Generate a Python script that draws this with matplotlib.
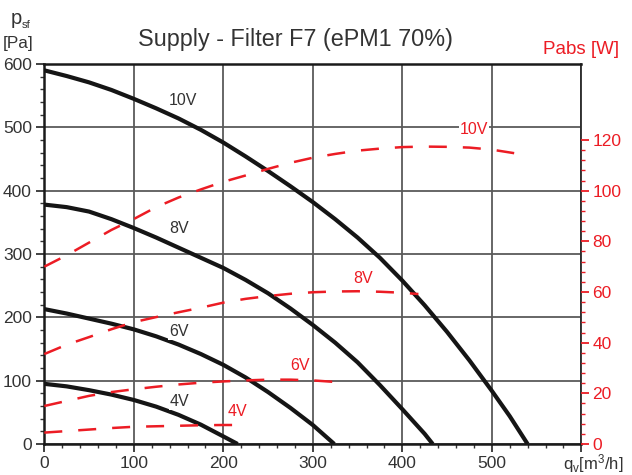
import matplotlib
matplotlib.use('Agg')
import matplotlib.pyplot as plt
from matplotlib.ticker import FixedLocator

plt.rcParams['font.family'] = ['Liberation Sans', 'DejaVu Sans']
plt.rcParams['mathtext.fontset'] = 'custom'
plt.rcParams['mathtext.rm'] = 'Liberation Sans'
plt.rcParams['mathtext.it'] = 'Liberation Sans'

# ---------------- data ----------------
# static pressure curves  (q [m3/h], p [Pa])
q_p10 = [0, 25, 50, 75, 100, 125, 150, 175, 200, 225, 250, 275, 300, 325, 350, 375, 400, 425, 450, 475, 500, 520, 540]
p_p10 = [590, 581, 571, 559, 545, 530, 514, 496, 476, 454, 431, 407, 382, 355, 326, 294, 258, 219, 177, 132, 84, 44, 0]

q_p8 = [0, 25, 50, 75, 100, 125, 150, 175, 200, 225, 250, 275, 300, 325, 350, 375, 400, 425, 434]
p_p8 = [378, 374, 367, 355, 341, 326, 310, 294, 278, 259, 238, 214, 188, 160, 129, 93, 55, 16, 0]

q_p6 = [0, 25, 50, 75, 100, 125, 150, 175, 200, 225, 250, 275, 300, 324]
p_p6 = [213, 206, 198, 190, 181, 170, 157, 142, 125, 105, 82, 57, 30, 0]

q_p4 = [0, 25, 50, 75, 100, 125, 150, 175, 200, 216]
p_p4 = [95, 91, 85, 78, 69.5, 59, 46, 30.5, 12, 0]

# absorbed power curves (q [m3/h], P [W])
q_w10 = [0, 25, 50, 75, 100, 125, 150, 175, 200, 225, 250, 275, 300, 325, 350, 375, 400, 425, 450, 475, 500, 525]
w_w10 = [70, 74.5, 79.5, 84.5, 88.8, 93.5, 97.3, 100.5, 103.5, 106, 108.6, 111, 113, 114.5, 115.8, 116.6, 117.2, 117.4, 117.3, 117, 116.2, 114.8]

q_w8 = [0, 25, 50, 75, 100, 125, 150, 175, 200, 225, 250, 275, 300, 325, 350, 375, 400, 418]
w_w8 = [35.5, 39.2, 42.2, 45.3, 48.1, 50.1, 52, 53.8, 55.8, 57.3, 58.4, 59.3, 59.9, 60.2, 60.3, 60.1, 59.7, 59.2]

q_w6 = [0, 25, 50, 75, 100, 125, 150, 175, 200, 225, 250, 275, 300, 337]
w_w6 = [15, 17, 19, 20.5, 21.6, 22.6, 23.5, 24.2, 24.7, 25.1, 25.4, 25.4, 25.1, 24.2]

q_w4 = [0, 25, 50, 75, 100, 125, 150, 175, 200, 224]
w_w4 = [4.5, 5.1, 5.7, 6.3, 6.8, 7.0, 7.2, 7.4, 7.5, 7.5]

curve_labels = ['10V', '8V', '6V', '4V']
p_label_pos = [(155, 542), (151, 340), (150, 177), (151, 67)]
w_label_pos = [(480, 124), (356, 65.5), (286, 30.8), (216, 13)]

x_ticks = [0, 100, 200, 300, 400, 500, 600]
x_ticklabels = ['0', '100', '200', '300', '400', '500', '']
y_ticks = [0, 100, 200, 300, 400, 500, 600]
w_ticks = [0, 20, 40, 60, 80, 100, 120]

title = 'Supply - Filter F7 (ePM1 70%)'

# ---------------- style ----------------
W, H = 632, 475
RED = '#ec1c24'
TXT = '#333333'
CURVE = '#151515'
GRID = '#5a5a5a'

fig = plt.figure(figsize=(W / 100, H / 100), dpi=100)
L, R, T, B = 44.3, 581.3, 64, 444
ax = fig.add_axes([L / W, 1 - B / H, (R - L) / W, (B - T) / H])
ax.set_xlim(0, 600)
ax.set_ylim(0, 600)

ax.xaxis.set_major_locator(FixedLocator(x_ticks))
ax.set_xticklabels(x_ticklabels)
ax.xaxis.set_minor_locator(FixedLocator(list(range(0, 601, 20))))
ax.yaxis.set_major_locator(FixedLocator(y_ticks))
ax.yaxis.set_minor_locator(FixedLocator(list(range(0, 601, 20))))
ax.tick_params(which='major', direction='out', length=6, width=1.3, color=TXT,
               labelcolor=TXT, labelsize=12.5, pad=3)
ax.tick_params(which='minor', direction='out', length=3.2, width=1.0, color=TXT)
ax.set_axisbelow(True)
ax.grid(True, which='major', color=GRID, linewidth=1.3)

for s in ['left', 'bottom', 'top']:
    ax.spines[s].set_linewidth(1.8)
    ax.spines[s].set_color('#1a1a1a')
ax.spines['right'].set_linewidth(1.3)
ax.spines['right'].set_color('#2a2a2a')

for q, p in [(q_p10, p_p10), (q_p8, p_p8), (q_p6, p_p6), (q_p4, p_p4)]:
    ax.plot(q, p, color=CURVE, linewidth=3.0, solid_capstyle='butt',
            solid_joinstyle='round', zorder=3)

for lab, (x, y) in zip(curve_labels, p_label_pos):
    ax.text(x, y, lab, ha='center', va='center', fontsize=11.5, color=TXT, zorder=4,
            bbox=dict(facecolor='white', edgecolor='none', pad=0.6))

ax2 = ax.twinx()
ax2.set_ylim(0, 150)
ax2.yaxis.set_major_locator(FixedLocator(w_ticks))
ax2.yaxis.set_minor_locator(FixedLocator(list(range(0, 121, 4))))
ax2.tick_params(which='major', direction='out', length=6, width=1.3, color=RED,
                labelcolor=RED, labelsize=12.5, pad=2)
ax2.tick_params(which='minor', direction='out', length=3.2, width=1.0, color=RED)
for s in ax2.spines.values():
    s.set_visible(False)

for q, w in [(q_w10, w_w10), (q_w8, w_w8), (q_w6, w_w6), (q_w4, w_w4)]:
    ax2.plot(q, w, color=RED, linewidth=1.8, dashes=(7.2, 6.4), dash_capstyle='butt', zorder=3)

for lab, (x, y) in zip(curve_labels, w_label_pos):
    ax2.text(x, y, lab, ha='center', va='center', fontsize=11.5, color=RED, zorder=4,
             bbox=dict(facecolor='white', edgecolor='none', pad=0.6))

# ---------------- texts ----------------
def fx(px):
    return px / W

def fy(py):
    return 1 - py / H

fig.text(fx(295), fy(46), title, ha='center', va='baseline', fontsize=16.8, color=TXT)
fig.text(fx(21.5), fy(24), 'p', ha='right', va='baseline', fontsize=14.5, color=TXT)
fig.text(fx(22), fy(28), 'sf', ha='left', va='baseline', fontsize=8.2, color=TXT)
fig.text(fx(33.5), fy(48), '[Pa]', ha='right', va='baseline', fontsize=12.3, color=TXT)
fig.text(fx(619), fy(54), 'Pabs [W]', ha='right', va='baseline', fontsize=13.5, color=RED)
fig.text(fx(563), fy(469), r'q$_{\mathrm{v}}$[m$^{3}$/h]', ha='left', va='baseline',
         fontsize=12, color=TXT)

fig.savefig('out.png', dpi=100)
